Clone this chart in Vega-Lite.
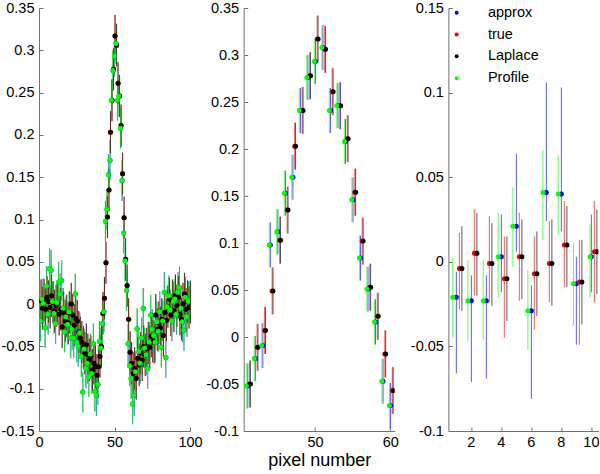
{
"$schema": "https://vega.github.io/schema/vega-lite/v6.json",
"autosize": {"type": "pad"},
"padding": {"left": 0, "top": 0, "right": 0, "bottom": 0},
"bounds": "flush",
"spacing": 53.7,
"config": {
  "view": {"stroke": null},
  "font": "Liberation Sans",
  "axis": {"grid": false, "domainColor": "#707070", "tickColor": "#707070", "tickSize": -4, "labelFontSize": 14.5, "labelColor": "#000000", "labelFlush": false, "labelOverlap": false, "titleFontSize": 18, "titleFontWeight": "normal", "titleColor": "#000000", "labelFont": "Liberation Sans", "titleFont": "Liberation Sans"},
  "axisY": {"labelPadding": 9},
  "axisX": {"labelPadding": 8, "titlePadding": 3}
},
"datasets": {
"px": [
{"x":1.05,"s":"approx","v":-0.020,"e":0.024},{"x":2.05,"s":"approx","v":0.006,"e":0.024},{"x":3.05,"s":"approx","v":0.001,"e":0.024},{"x":4.05,"s":"approx","v":-0.028,"e":0.024},{"x":5.05,"s":"approx","v":0.021,"e":0.024},{"x":6.05,"s":"approx","v":-0.012,"e":0.024},{"x":7.05,"s":"approx","v":0.042,"e":0.024},{"x":8.05,"s":"approx","v":0.040,"e":0.024},{"x":9.05,"s":"approx","v":0.003,"e":0.024},{"x":10.05,"s":"approx","v":-0.011,"e":0.024},
{"x":11.05,"s":"approx","v":-0.023,"e":0.024},{"x":12.05,"s":"approx","v":0.002,"e":0.024},{"x":13.05,"s":"approx","v":0.026,"e":0.024},{"x":14.05,"s":"approx","v":0.012,"e":0.024},{"x":15.05,"s":"approx","v":0.028,"e":0.024},{"x":16.05,"s":"approx","v":-0.005,"e":0.024},{"x":17.05,"s":"approx","v":-0.033,"e":0.024},{"x":18.05,"s":"approx","v":-0.015,"e":0.024},{"x":19.05,"s":"approx","v":-0.024,"e":0.024},{"x":20.05,"s":"approx","v":-0.009,"e":0.024},
{"x":21.05,"s":"approx","v":-0.040,"e":0.024},{"x":22.05,"s":"approx","v":-0.030,"e":0.024},{"x":23.05,"s":"approx","v":-0.040,"e":0.024},{"x":24.05,"s":"approx","v":0.012,"e":0.024},{"x":25.05,"s":"approx","v":-0.045,"e":0.024},{"x":26.05,"s":"approx","v":-0.050,"e":0.024},{"x":27.05,"s":"approx","v":-0.034,"e":0.024},{"x":28.05,"s":"approx","v":-0.062,"e":0.024},{"x":29.05,"s":"approx","v":-0.104,"e":0.024},{"x":30.05,"s":"approx","v":-0.053,"e":0.024},
{"x":31.05,"s":"approx","v":-0.076,"e":0.024},{"x":32.05,"s":"approx","v":-0.070,"e":0.024},{"x":33.05,"s":"approx","v":-0.086,"e":0.024},{"x":34.05,"s":"approx","v":-0.059,"e":0.024},{"x":35.05,"s":"approx","v":-0.082,"e":0.024},{"x":36.05,"s":"approx","v":-0.047,"e":0.024},{"x":37.05,"s":"approx","v":-0.103,"e":0.024},{"x":38.05,"s":"approx","v":-0.108,"e":0.024},{"x":39.05,"s":"approx","v":-0.095,"e":0.024},{"x":40.05,"s":"approx","v":-0.044,"e":0.024},
{"x":41.05,"s":"approx","v":-0.052,"e":0.024},{"x":42.05,"s":"approx","v":-0.023,"e":0.024},{"x":43.05,"s":"approx","v":-0.009,"e":0.024},{"x":44.05,"s":"approx","v":0.098,"e":0.024},{"x":45.05,"s":"approx","v":0.112,"e":0.024},{"x":46.05,"s":"approx","v":0.153,"e":0.024},{"x":47.05,"s":"approx","v":0.170,"e":0.024},{"x":48.05,"s":"approx","v":0.241,"e":0.024},{"x":49.05,"s":"approx","v":0.276,"e":0.024},{"x":50.05,"s":"approx","v":0.293,"e":0.024},
{"x":51.05,"s":"approx","v":0.308,"e":0.024},{"x":52.05,"s":"approx","v":0.241,"e":0.024},{"x":53.05,"s":"approx","v":0.246,"e":0.024},{"x":54.05,"s":"approx","v":0.208,"e":0.024},{"x":55.05,"s":"approx","v":0.146,"e":0.024},{"x":56.05,"s":"approx","v":0.084,"e":0.024},{"x":57.05,"s":"approx","v":0.051,"e":0.024},{"x":58.05,"s":"approx","v":0.016,"e":0.024},{"x":59.05,"s":"approx","v":-0.047,"e":0.024},{"x":60.05,"s":"approx","v":-0.073,"e":0.024},
{"x":61.05,"s":"approx","v":-0.088,"e":0.024},{"x":62.05,"s":"approx","v":-0.118,"e":0.024},{"x":63.05,"s":"approx","v":-0.108,"e":0.024},{"x":64.05,"s":"approx","v":-0.080,"e":0.024},{"x":65.05,"s":"approx","v":-0.029,"e":0.024},{"x":66.05,"s":"approx","v":-0.056,"e":0.024},{"x":67.05,"s":"approx","v":-0.070,"e":0.024},{"x":68.05,"s":"approx","v":-0.040,"e":0.024},{"x":69.05,"s":"approx","v":-0.005,"e":0.024},{"x":70.05,"s":"approx","v":-0.052,"e":0.024},
{"x":71.05,"s":"approx","v":-0.060,"e":0.024},{"x":72.05,"s":"approx","v":-0.076,"e":0.024},{"x":73.05,"s":"approx","v":-0.045,"e":0.024},{"x":74.05,"s":"approx","v":-0.013,"e":0.024},{"x":75.05,"s":"approx","v":-0.030,"e":0.024},{"x":76.05,"s":"approx","v":-0.037,"e":0.024},{"x":77.05,"s":"approx","v":-0.045,"e":0.024},{"x":78.05,"s":"approx","v":-0.021,"e":0.024},{"x":79.05,"s":"approx","v":-0.032,"e":0.024},{"x":80.05,"s":"approx","v":-0.009,"e":0.024},
{"x":81.05,"s":"approx","v":-0.051,"e":0.024},{"x":82.05,"s":"approx","v":-0.020,"e":0.024},{"x":83.05,"s":"approx","v":0.014,"e":0.024},{"x":84.05,"s":"approx","v":-0.063,"e":0.024},{"x":85.05,"s":"approx","v":-0.003,"e":0.024},{"x":86.05,"s":"approx","v":0.010,"e":0.024},{"x":87.05,"s":"approx","v":-0.007,"e":0.024},{"x":88.05,"s":"approx","v":-0.020,"e":0.024},{"x":89.05,"s":"approx","v":0.003,"e":0.024},{"x":90.05,"s":"approx","v":0.006,"e":0.024},
{"x":91.05,"s":"approx","v":-0.012,"e":0.024},{"x":92.05,"s":"approx","v":0.014,"e":0.024},{"x":93.05,"s":"approx","v":0.020,"e":0.024},{"x":94.05,"s":"approx","v":-0.005,"e":0.024},{"x":95.05,"s":"approx","v":-0.021,"e":0.024},{"x":96.05,"s":"approx","v":-0.031,"e":0.024},{"x":97.05,"s":"approx","v":0.008,"e":0.024},{"x":98.05,"s":"approx","v":-0.015,"e":0.024},{"x":99.05,"s":"approx","v":0.003,"e":0.024},{"x":100.05,"s":"approx","v":0.004,"e":0.024},

{"x":1.28,"s":"true","v":0.004,"e":0.025},{"x":2.28,"s":"true","v":-0.005,"e":0.025},{"x":3.28,"s":"true","v":0.005,"e":0.025},{"x":4.28,"s":"true","v":-0.006,"e":0.025},{"x":5.28,"s":"true","v":0.008,"e":0.025},{"x":6.28,"s":"true","v":0.003,"e":0.025},{"x":7.28,"s":"true","v":-0.004,"e":0.025},{"x":8.28,"s":"true","v":0.010,"e":0.025},{"x":9.28,"s":"true","v":0.002,"e":0.025},{"x":10.28,"s":"true","v":-0.008,"e":0.025},
{"x":11.28,"s":"true","v":-0.002,"e":0.025},{"x":12.28,"s":"true","v":0.001,"e":0.025},{"x":13.28,"s":"true","v":-0.012,"e":0.025},{"x":14.28,"s":"true","v":-0.006,"e":0.025},{"x":15.28,"s":"true","v":-0.027,"e":0.025},{"x":16.28,"s":"true","v":-0.010,"e":0.025},{"x":17.28,"s":"true","v":-0.020,"e":0.025},{"x":18.28,"s":"true","v":-0.014,"e":0.025},{"x":19.28,"s":"true","v":-0.022,"e":0.025},{"x":20.28,"s":"true","v":-0.010,"e":0.025},
{"x":21.28,"s":"true","v":0.000,"e":0.025},{"x":22.28,"s":"true","v":-0.013,"e":0.025},{"x":23.28,"s":"true","v":-0.025,"e":0.025},{"x":24.28,"s":"true","v":-0.017,"e":0.025},{"x":25.28,"s":"true","v":-0.020,"e":0.025},{"x":26.28,"s":"true","v":-0.033,"e":0.025},{"x":27.28,"s":"true","v":-0.040,"e":0.025},{"x":28.28,"s":"true","v":-0.045,"e":0.025},{"x":29.28,"s":"true","v":-0.051,"e":0.025},{"x":30.28,"s":"true","v":-0.058,"e":0.025},
{"x":31.28,"s":"true","v":-0.048,"e":0.025},{"x":32.28,"s":"true","v":-0.060,"e":0.025},{"x":33.28,"s":"true","v":-0.066,"e":0.025},{"x":34.28,"s":"true","v":-0.062,"e":0.025},{"x":35.28,"s":"true","v":-0.078,"e":0.025},{"x":36.28,"s":"true","v":-0.070,"e":0.025},{"x":37.28,"s":"true","v":-0.074,"e":0.025},{"x":38.28,"s":"true","v":-0.084,"e":0.025},{"x":39.28,"s":"true","v":-0.074,"e":0.025},{"x":40.28,"s":"true","v":-0.062,"e":0.025},
{"x":41.28,"s":"true","v":-0.050,"e":0.025},{"x":42.28,"s":"true","v":-0.011,"e":0.025},{"x":43.28,"s":"true","v":0.007,"e":0.025},{"x":44.28,"s":"true","v":0.049,"e":0.025},{"x":45.28,"s":"true","v":0.103,"e":0.025},{"x":46.28,"s":"true","v":0.135,"e":0.025},{"x":47.28,"s":"true","v":0.203,"e":0.025},{"x":48.28,"s":"true","v":0.241,"e":0.025},{"x":49.28,"s":"true","v":0.278,"e":0.025},{"x":50.28,"s":"true","v":0.317,"e":0.025},
{"x":51.28,"s":"true","v":0.306,"e":0.025},{"x":52.28,"s":"true","v":0.261,"e":0.025},{"x":53.28,"s":"true","v":0.246,"e":0.025},{"x":54.28,"s":"true","v":0.211,"e":0.025},{"x":55.28,"s":"true","v":0.154,"e":0.025},{"x":56.28,"s":"true","v":0.102,"e":0.025},{"x":57.28,"s":"true","v":0.053,"e":0.025},{"x":58.28,"s":"true","v":0.022,"e":0.025},{"x":59.28,"s":"true","v":-0.018,"e":0.025},{"x":60.28,"s":"true","v":-0.057,"e":0.025},
{"x":61.28,"s":"true","v":-0.070,"e":0.025},{"x":62.28,"s":"true","v":-0.082,"e":0.025},{"x":63.28,"s":"true","v":-0.076,"e":0.025},{"x":64.28,"s":"true","v":-0.088,"e":0.025},{"x":65.28,"s":"true","v":-0.064,"e":0.025},{"x":66.28,"s":"true","v":-0.072,"e":0.025},{"x":67.28,"s":"true","v":-0.058,"e":0.025},{"x":68.28,"s":"true","v":-0.066,"e":0.025},{"x":69.28,"s":"true","v":-0.050,"e":0.025},{"x":70.28,"s":"true","v":-0.060,"e":0.025},
{"x":71.28,"s":"true","v":-0.053,"e":0.025},{"x":72.28,"s":"true","v":-0.046,"e":0.025},{"x":73.28,"s":"true","v":-0.051,"e":0.025},{"x":74.28,"s":"true","v":-0.038,"e":0.025},{"x":75.28,"s":"true","v":-0.044,"e":0.025},{"x":76.28,"s":"true","v":-0.045,"e":0.025},{"x":77.28,"s":"true","v":-0.013,"e":0.025},{"x":78.28,"s":"true","v":-0.030,"e":0.025},{"x":79.28,"s":"true","v":-0.022,"e":0.025},{"x":80.28,"s":"true","v":-0.028,"e":0.025},
{"x":81.28,"s":"true","v":-0.018,"e":0.025},{"x":82.28,"s":"true","v":-0.037,"e":0.025},{"x":83.28,"s":"true","v":-0.010,"e":0.025},{"x":84.28,"s":"true","v":-0.019,"e":0.025},{"x":85.28,"s":"true","v":-0.003,"e":0.025},{"x":86.28,"s":"true","v":0.006,"e":0.025},{"x":87.28,"s":"true","v":-0.013,"e":0.025},{"x":88.28,"s":"true","v":0.004,"e":0.025},{"x":89.28,"s":"true","v":-0.008,"e":0.025},{"x":90.28,"s":"true","v":0.010,"e":0.025},
{"x":91.28,"s":"true","v":-0.002,"e":0.025},{"x":92.28,"s":"true","v":0.008,"e":0.025},{"x":93.28,"s":"true","v":-0.012,"e":0.025},{"x":94.28,"s":"true","v":-0.018,"e":0.025},{"x":95.28,"s":"true","v":0.000,"e":0.025},{"x":96.28,"s":"true","v":0.012,"e":0.025},{"x":97.28,"s":"true","v":-0.006,"e":0.025},{"x":98.28,"s":"true","v":0.003,"e":0.025},{"x":99.28,"s":"true","v":-0.004,"e":0.025},{"x":100.28,"s":"true","v":0.002,"e":0.025},

{"x":1.4,"s":"Laplace","v":0.004,"e":0.025},{"x":2.4,"s":"Laplace","v":-0.005,"e":0.025},{"x":3.4,"s":"Laplace","v":0.005,"e":0.025},{"x":4.4,"s":"Laplace","v":-0.006,"e":0.025},{"x":5.4,"s":"Laplace","v":0.008,"e":0.025},{"x":6.4,"s":"Laplace","v":0.003,"e":0.025},{"x":7.4,"s":"Laplace","v":-0.004,"e":0.025},{"x":8.4,"s":"Laplace","v":0.010,"e":0.025},{"x":9.4,"s":"Laplace","v":0.002,"e":0.025},{"x":10.4,"s":"Laplace","v":-0.008,"e":0.025},
{"x":11.4,"s":"Laplace","v":-0.002,"e":0.025},{"x":12.4,"s":"Laplace","v":0.001,"e":0.025},{"x":13.4,"s":"Laplace","v":-0.012,"e":0.025},{"x":14.4,"s":"Laplace","v":-0.006,"e":0.025},{"x":15.4,"s":"Laplace","v":-0.027,"e":0.025},{"x":16.4,"s":"Laplace","v":-0.010,"e":0.025},{"x":17.4,"s":"Laplace","v":-0.020,"e":0.025},{"x":18.4,"s":"Laplace","v":-0.014,"e":0.025},{"x":19.4,"s":"Laplace","v":-0.022,"e":0.025},{"x":20.4,"s":"Laplace","v":-0.010,"e":0.025},
{"x":21.4,"s":"Laplace","v":0.000,"e":0.025},{"x":22.4,"s":"Laplace","v":-0.013,"e":0.025},{"x":23.4,"s":"Laplace","v":-0.025,"e":0.025},{"x":24.4,"s":"Laplace","v":-0.017,"e":0.025},{"x":25.4,"s":"Laplace","v":-0.020,"e":0.025},{"x":26.4,"s":"Laplace","v":-0.033,"e":0.025},{"x":27.4,"s":"Laplace","v":-0.040,"e":0.025},{"x":28.4,"s":"Laplace","v":-0.045,"e":0.025},{"x":29.4,"s":"Laplace","v":-0.051,"e":0.025},{"x":30.4,"s":"Laplace","v":-0.058,"e":0.025},
{"x":31.4,"s":"Laplace","v":-0.048,"e":0.025},{"x":32.4,"s":"Laplace","v":-0.060,"e":0.025},{"x":33.4,"s":"Laplace","v":-0.066,"e":0.025},{"x":34.4,"s":"Laplace","v":-0.062,"e":0.025},{"x":35.4,"s":"Laplace","v":-0.078,"e":0.025},{"x":36.4,"s":"Laplace","v":-0.070,"e":0.025},{"x":37.4,"s":"Laplace","v":-0.074,"e":0.025},{"x":38.4,"s":"Laplace","v":-0.084,"e":0.025},{"x":39.4,"s":"Laplace","v":-0.074,"e":0.025},{"x":40.4,"s":"Laplace","v":-0.062,"e":0.025},
{"x":41.4,"s":"Laplace","v":-0.050,"e":0.025},{"x":42.4,"s":"Laplace","v":-0.011,"e":0.025},{"x":43.4,"s":"Laplace","v":0.007,"e":0.025},{"x":44.4,"s":"Laplace","v":0.049,"e":0.025},{"x":45.4,"s":"Laplace","v":0.103,"e":0.025},{"x":46.4,"s":"Laplace","v":0.135,"e":0.025},{"x":47.4,"s":"Laplace","v":0.203,"e":0.025},{"x":48.4,"s":"Laplace","v":0.241,"e":0.025},{"x":49.4,"s":"Laplace","v":0.278,"e":0.025},{"x":50.4,"s":"Laplace","v":0.317,"e":0.025},
{"x":51.4,"s":"Laplace","v":0.306,"e":0.025},{"x":52.4,"s":"Laplace","v":0.261,"e":0.025},{"x":53.4,"s":"Laplace","v":0.246,"e":0.025},{"x":54.4,"s":"Laplace","v":0.211,"e":0.025},{"x":55.4,"s":"Laplace","v":0.154,"e":0.025},{"x":56.4,"s":"Laplace","v":0.102,"e":0.025},{"x":57.4,"s":"Laplace","v":0.053,"e":0.025},{"x":58.4,"s":"Laplace","v":0.022,"e":0.025},{"x":59.4,"s":"Laplace","v":-0.018,"e":0.025},{"x":60.4,"s":"Laplace","v":-0.057,"e":0.025},
{"x":61.4,"s":"Laplace","v":-0.070,"e":0.025},{"x":62.4,"s":"Laplace","v":-0.082,"e":0.025},{"x":63.4,"s":"Laplace","v":-0.076,"e":0.025},{"x":64.4,"s":"Laplace","v":-0.088,"e":0.025},{"x":65.4,"s":"Laplace","v":-0.064,"e":0.025},{"x":66.4,"s":"Laplace","v":-0.072,"e":0.025},{"x":67.4,"s":"Laplace","v":-0.058,"e":0.025},{"x":68.4,"s":"Laplace","v":-0.066,"e":0.025},{"x":69.4,"s":"Laplace","v":-0.050,"e":0.025},{"x":70.4,"s":"Laplace","v":-0.060,"e":0.025},
{"x":71.4,"s":"Laplace","v":-0.053,"e":0.025},{"x":72.4,"s":"Laplace","v":-0.046,"e":0.025},{"x":73.4,"s":"Laplace","v":-0.051,"e":0.025},{"x":74.4,"s":"Laplace","v":-0.038,"e":0.025},{"x":75.4,"s":"Laplace","v":-0.044,"e":0.025},{"x":76.4,"s":"Laplace","v":-0.045,"e":0.025},{"x":77.4,"s":"Laplace","v":-0.013,"e":0.025},{"x":78.4,"s":"Laplace","v":-0.030,"e":0.025},{"x":79.4,"s":"Laplace","v":-0.022,"e":0.025},{"x":80.4,"s":"Laplace","v":-0.028,"e":0.025},
{"x":81.4,"s":"Laplace","v":-0.018,"e":0.025},{"x":82.4,"s":"Laplace","v":-0.037,"e":0.025},{"x":83.4,"s":"Laplace","v":-0.010,"e":0.025},{"x":84.4,"s":"Laplace","v":-0.019,"e":0.025},{"x":85.4,"s":"Laplace","v":-0.003,"e":0.025},{"x":86.4,"s":"Laplace","v":0.006,"e":0.025},{"x":87.4,"s":"Laplace","v":-0.013,"e":0.025},{"x":88.4,"s":"Laplace","v":0.004,"e":0.025},{"x":89.4,"s":"Laplace","v":-0.008,"e":0.025},{"x":90.4,"s":"Laplace","v":0.010,"e":0.025},
{"x":91.4,"s":"Laplace","v":-0.002,"e":0.025},{"x":92.4,"s":"Laplace","v":0.008,"e":0.025},{"x":93.4,"s":"Laplace","v":-0.012,"e":0.025},{"x":94.4,"s":"Laplace","v":-0.018,"e":0.025},{"x":95.4,"s":"Laplace","v":0.000,"e":0.025},{"x":96.4,"s":"Laplace","v":0.012,"e":0.025},{"x":97.4,"s":"Laplace","v":-0.006,"e":0.025},{"x":98.4,"s":"Laplace","v":0.003,"e":0.025},{"x":99.4,"s":"Laplace","v":-0.004,"e":0.025},{"x":100.4,"s":"Laplace","v":0.002,"e":0.025},

{"x":0.9,"s":"Profile","v":-0.020,"e":0.024},{"x":1.9,"s":"Profile","v":0.006,"e":0.024},{"x":2.9,"s":"Profile","v":0.001,"e":0.024},{"x":3.9,"s":"Profile","v":-0.028,"e":0.024},{"x":4.9,"s":"Profile","v":0.021,"e":0.024},{"x":5.9,"s":"Profile","v":-0.012,"e":0.024},{"x":6.9,"s":"Profile","v":0.042,"e":0.024},{"x":7.9,"s":"Profile","v":0.040,"e":0.024},{"x":8.9,"s":"Profile","v":0.003,"e":0.024},{"x":9.9,"s":"Profile","v":-0.011,"e":0.024},
{"x":10.9,"s":"Profile","v":-0.023,"e":0.024},{"x":11.9,"s":"Profile","v":0.002,"e":0.024},{"x":12.9,"s":"Profile","v":0.026,"e":0.024},{"x":13.9,"s":"Profile","v":0.012,"e":0.024},{"x":14.9,"s":"Profile","v":0.028,"e":0.024},{"x":15.9,"s":"Profile","v":-0.005,"e":0.024},{"x":16.9,"s":"Profile","v":-0.033,"e":0.024},{"x":17.9,"s":"Profile","v":-0.015,"e":0.024},{"x":18.9,"s":"Profile","v":-0.024,"e":0.024},{"x":19.9,"s":"Profile","v":-0.009,"e":0.024},
{"x":20.9,"s":"Profile","v":-0.040,"e":0.024},{"x":21.9,"s":"Profile","v":-0.030,"e":0.024},{"x":22.9,"s":"Profile","v":-0.040,"e":0.024},{"x":23.9,"s":"Profile","v":0.012,"e":0.024},{"x":24.9,"s":"Profile","v":-0.045,"e":0.024},{"x":25.9,"s":"Profile","v":-0.050,"e":0.024},{"x":26.9,"s":"Profile","v":-0.034,"e":0.024},{"x":27.9,"s":"Profile","v":-0.062,"e":0.024},{"x":28.9,"s":"Profile","v":-0.104,"e":0.024},{"x":29.9,"s":"Profile","v":-0.053,"e":0.024},
{"x":30.9,"s":"Profile","v":-0.076,"e":0.024},{"x":31.9,"s":"Profile","v":-0.070,"e":0.024},{"x":32.9,"s":"Profile","v":-0.086,"e":0.024},{"x":33.9,"s":"Profile","v":-0.059,"e":0.024},{"x":34.9,"s":"Profile","v":-0.082,"e":0.024},{"x":35.9,"s":"Profile","v":-0.047,"e":0.024},{"x":36.9,"s":"Profile","v":-0.103,"e":0.024},{"x":37.9,"s":"Profile","v":-0.108,"e":0.024},{"x":38.9,"s":"Profile","v":-0.095,"e":0.024},{"x":39.9,"s":"Profile","v":-0.044,"e":0.024},
{"x":40.85,"s":"Profile","v":-0.052,"e":0.024},{"x":41.9,"s":"Profile","v":-0.023,"e":0.024},{"x":42.9,"s":"Profile","v":-0.009,"e":0.024},{"x":43.9,"s":"Profile","v":0.098,"e":0.024},{"x":44.9,"s":"Profile","v":0.112,"e":0.024},{"x":45.9,"s":"Profile","v":0.153,"e":0.024},{"x":46.9,"s":"Profile","v":0.170,"e":0.024},{"x":47.9,"s":"Profile","v":0.241,"e":0.024},{"x":48.9,"s":"Profile","v":0.276,"e":0.024},{"x":49.9,"s":"Profile","v":0.293,"e":0.024},
{"x":50.9,"s":"Profile","v":0.308,"e":0.024},{"x":51.9,"s":"Profile","v":0.241,"e":0.024},{"x":52.9,"s":"Profile","v":0.246,"e":0.024},{"x":53.9,"s":"Profile","v":0.208,"e":0.024},{"x":54.9,"s":"Profile","v":0.146,"e":0.024},{"x":55.9,"s":"Profile","v":0.084,"e":0.024},{"x":56.9,"s":"Profile","v":0.051,"e":0.024},{"x":57.9,"s":"Profile","v":0.016,"e":0.024},{"x":58.9,"s":"Profile","v":-0.047,"e":0.024},{"x":59.9,"s":"Profile","v":-0.073,"e":0.024},
{"x":60.9,"s":"Profile","v":-0.088,"e":0.024},{"x":61.9,"s":"Profile","v":-0.118,"e":0.024},{"x":62.9,"s":"Profile","v":-0.108,"e":0.024},{"x":63.9,"s":"Profile","v":-0.080,"e":0.024},{"x":64.9,"s":"Profile","v":-0.029,"e":0.024},{"x":65.9,"s":"Profile","v":-0.056,"e":0.024},{"x":66.9,"s":"Profile","v":-0.070,"e":0.024},{"x":67.9,"s":"Profile","v":-0.040,"e":0.024},{"x":68.9,"s":"Profile","v":-0.005,"e":0.024},{"x":69.9,"s":"Profile","v":-0.052,"e":0.024},
{"x":70.9,"s":"Profile","v":-0.060,"e":0.024},{"x":71.9,"s":"Profile","v":-0.076,"e":0.024},{"x":72.9,"s":"Profile","v":-0.045,"e":0.024},{"x":73.9,"s":"Profile","v":-0.013,"e":0.024},{"x":74.9,"s":"Profile","v":-0.030,"e":0.024},{"x":75.9,"s":"Profile","v":-0.037,"e":0.024},{"x":76.9,"s":"Profile","v":-0.045,"e":0.024},{"x":77.9,"s":"Profile","v":-0.021,"e":0.024},{"x":78.9,"s":"Profile","v":-0.032,"e":0.024},{"x":79.9,"s":"Profile","v":-0.009,"e":0.024},
{"x":80.9,"s":"Profile","v":-0.051,"e":0.024},{"x":81.9,"s":"Profile","v":-0.020,"e":0.024},{"x":82.9,"s":"Profile","v":0.014,"e":0.024},{"x":83.9,"s":"Profile","v":-0.063,"e":0.024},{"x":84.9,"s":"Profile","v":-0.003,"e":0.024},{"x":85.9,"s":"Profile","v":0.010,"e":0.024},{"x":86.9,"s":"Profile","v":-0.007,"e":0.024},{"x":87.9,"s":"Profile","v":-0.020,"e":0.024},{"x":88.9,"s":"Profile","v":0.003,"e":0.024},{"x":89.9,"s":"Profile","v":0.006,"e":0.024},
{"x":90.9,"s":"Profile","v":-0.012,"e":0.024},{"x":91.9,"s":"Profile","v":0.014,"e":0.024},{"x":92.9,"s":"Profile","v":0.020,"e":0.024},{"x":93.9,"s":"Profile","v":-0.005,"e":0.024},{"x":94.9,"s":"Profile","v":-0.021,"e":0.024},{"x":95.9,"s":"Profile","v":-0.031,"e":0.024},{"x":96.9,"s":"Profile","v":0.008,"e":0.024},{"x":97.9,"s":"Profile","v":-0.015,"e":0.024},{"x":98.9,"s":"Profile","v":0.003,"e":0.024},{"x":99.9,"s":"Profile","v":0.004,"e":0.024}
],
"idx": [
{"x":1.03,"s":"approx","v":-0.021,"lo":-0.066,"hi":-0.006},{"x":2.03,"s":"approx","v":-0.023,"lo":-0.071,"hi":-0.008},{"x":3.03,"s":"approx","v":-0.023,"lo":-0.069,"hi":-0.008},{"x":4.03,"s":"approx","v":0.003,"lo":-0.018,"hi":0.028},{"x":5.03,"s":"approx","v":0.021,"lo":0.006,"hi":0.064},{"x":6.03,"s":"approx","v":-0.029,"lo":-0.081,"hi":-0.014},{"x":7.03,"s":"approx","v":0.041,"lo":0.024,"hi":0.106},{"x":8.03,"s":"approx","v":0.040,"lo":0.018,"hi":0.103},{"x":9.03,"s":"approx","v":-0.013,"lo":-0.049,"hi":0.003},{"x":10.03,"s":"approx","v":0.003,"lo":-0.018,"hi":0.028},
{"x":1.23,"s":"true","v":-0.004,"lo":-0.028,"hi":0.017},{"x":2.23,"s":"true","v":0.005,"lo":-0.020,"hi":0.031},{"x":3.23,"s":"true","v":-0.001,"lo":-0.024,"hi":0.027},{"x":4.23,"s":"true","v":-0.010,"lo":-0.045,"hi":0.015},{"x":5.23,"s":"true","v":0.003,"lo":-0.023,"hi":0.029},{"x":6.23,"s":"true","v":-0.007,"lo":-0.040,"hi":0.015},{"x":7.23,"s":"true","v":-0.001,"lo":-0.024,"hi":0.024},{"x":8.23,"s":"true","v":0.010,"lo":-0.015,"hi":0.036},{"x":9.23,"s":"true","v":-0.012,"lo":-0.049,"hi":0.013},{"x":10.23,"s":"true","v":0.006,"lo":-0.024,"hi":0.036},
{"x":1.4,"s":"Laplace","v":-0.004,"lo":-0.029,"hi":0.021},{"x":2.4,"s":"Laplace","v":0.005,"lo":-0.020,"hi":0.029},{"x":3.4,"s":"Laplace","v":-0.001,"lo":-0.026,"hi":0.023},{"x":4.4,"s":"Laplace","v":-0.010,"lo":-0.035,"hi":0.015},{"x":5.4,"s":"Laplace","v":0.003,"lo":-0.022,"hi":0.025},{"x":6.4,"s":"Laplace","v":-0.007,"lo":-0.032,"hi":0.018},{"x":7.4,"s":"Laplace","v":-0.001,"lo":-0.026,"hi":0.025},{"x":8.4,"s":"Laplace","v":0.010,"lo":-0.015,"hi":0.033},{"x":9.4,"s":"Laplace","v":-0.012,"lo":-0.037,"hi":0.013},{"x":10.4,"s":"Laplace","v":0.006,"lo":-0.019,"hi":0.031},
{"x":0.79,"s":"Profile","v":-0.021,"lo":-0.045,"hi":0.002},{"x":1.8,"s":"Profile","v":-0.023,"lo":-0.047,"hi":0.001},{"x":2.82,"s":"Profile","v":-0.023,"lo":-0.046,"hi":0.001},{"x":3.82,"s":"Profile","v":0.003,"lo":-0.021,"hi":0.029},{"x":4.8,"s":"Profile","v":0.021,"lo":-0.003,"hi":0.044},{"x":5.8,"s":"Profile","v":-0.029,"lo":-0.052,"hi":-0.005},{"x":6.8,"s":"Profile","v":0.041,"lo":0.013,"hi":0.066},{"x":7.82,"s":"Profile","v":0.040,"lo":0.016,"hi":0.063},{"x":8.84,"s":"Profile","v":-0.013,"lo":-0.038,"hi":0.011},{"x":9.94,"s":"Profile","v":0.003,"lo":-0.021,"hi":0.022}
]
},
"hconcat": [
{
  "width": 151, "height": 423,
  "data": {"name": "px"},
  "layer": [
    {"mark": {"type": "errorbar", "ticks": false, "rule": {"strokeWidth": 1, "opacity": 0.65}},
     "encoding": {
       "x": {"field": "x", "type": "quantitative", "scale": {"domain": [0, 100], "nice": false, "zero": false}, "axis": {"title": null, "values": [0, 50, 100], "labelOverlap": false}},
       "y": {"field": "v", "type": "quantitative", "scale": {"domain": [-0.15, 0.35], "nice": false, "zero": false}, "axis": {"title": null, "labelOverlap": false, "values": [-0.15, -0.1, -0.05, 0, 0.05, 0.1, 0.15, 0.2, 0.25, 0.3, 0.35], "labelExpr": "replace(format(datum.value, '~g'), '\u2212', '-')"}},
       "yError": {"field": "e"},
       "stroke": {"field": "s", "type": "nominal", "scale": {"domain": ["Profile", "Laplace", "true", "approx"], "range": ["#00ff00", "#000000", "#ff0000", "#0000ff"]}, "legend": null}
     }},
    {"mark": {"type": "point", "filled": true, "size": 25, "opacity": 1, "clip": true},
     "encoding": {
       "x": {"field": "x", "type": "quantitative"},
       "y": {"field": "v", "type": "quantitative"},
       "color": {"field": "s", "type": "nominal", "scale": {"domain": ["approx", "true", "Laplace", "Profile"], "range": ["#0000ff", "#ff0000", "#000000", "#00ff00"]},
         "legend": {"orient": "none", "legendX": 410.4, "legendY": -2.5, "title": null, "symbolType": "circle", "symbolSize": 16, "symbolStrokeWidth": 0, "labelFontSize": 14.5, "labelFont": "Liberation Sans", "labelColor": "#000000", "labelOffset": 24, "rowPadding": 6.8, "padding": 0}}
     }}
  ]
},
{
  "width": 151, "height": 423,
  "data": {"name": "px"},
  "transform": [{"filter": {"field": "x", "range": [40.6, 60.6]}}],
  "layer": [
    {"mark": {"type": "errorbar", "ticks": false, "rule": {"strokeWidth": 1, "opacity": 0.65}},
     "encoding": {
       "x": {"field": "x", "type": "quantitative", "scale": {"domain": [40.5, 60.6], "nice": false, "zero": false}, "axis": {"title": "pixel number", "values": [50, 60], "labelOverlap": false}},
       "y": {"field": "v", "type": "quantitative", "scale": {"domain": [-0.1, 0.35], "nice": false, "zero": false}, "axis": {"title": null, "labelOverlap": false, "values": [-0.1, -0.05, 0, 0.05, 0.1, 0.15, 0.2, 0.25, 0.3, 0.35], "labelExpr": "replace(format(datum.value, '~g'), '\u2212', '-')"}},
       "yError": {"field": "e"},
       "stroke": {"field": "s", "type": "nominal", "scale": {"domain": ["Profile", "Laplace", "true", "approx"], "range": ["#00ff00", "#000000", "#ff0000", "#0000ff"]}, "legend": null}
     }},
    {"mark": {"type": "point", "filled": true, "size": 25, "opacity": 1, "clip": true},
     "encoding": {
       "x": {"field": "x", "type": "quantitative"},
       "y": {"field": "v", "type": "quantitative"},
       "color": {"field": "s", "type": "nominal", "scale": {"domain": ["approx", "true", "Laplace", "Profile"], "range": ["#0000ff", "#ff0000", "#000000", "#00ff00"]},
         "legend": {"orient": "none", "legendX": 410.4, "legendY": -2.5, "title": null, "symbolType": "circle", "symbolSize": 16, "symbolStrokeWidth": 0, "labelFontSize": 14.5, "labelFont": "Liberation Sans", "labelColor": "#000000", "labelOffset": 24, "rowPadding": 6.8, "padding": 0}}
     }}
  ]
},
{
  "width": 150, "height": 423,
  "data": {"name": "idx"},
  "layer": [
    {"mark": {"type": "rule", "strokeWidth": 1, "opacity": 0.65, "clip": true},
     "encoding": {
       "x": {"field": "x", "type": "quantitative", "scale": {"domain": [0.5, 10.5], "nice": false, "zero": false}, "axis": {"title": null, "values": [2, 4, 6, 8, 10], "labelOverlap": false, "labelSeparation": 0}},
       "y": {"field": "lo", "type": "quantitative", "scale": {"domain": [-0.1, 0.15], "nice": false, "zero": false}, "axis": {"title": null, "labelOverlap": false, "values": [-0.1, -0.05, 0, 0.05, 0.1, 0.15], "labelExpr": "replace(format(datum.value, '~g'), '\u2212', '-')"}},
       "y2": {"field": "hi"},
       "stroke": {"field": "s", "type": "nominal", "scale": {"domain": ["Profile", "Laplace", "true", "approx"], "range": ["#00ff00", "#000000", "#ff0000", "#0000ff"]}, "legend": null}
     }},
    {"mark": {"type": "point", "filled": true, "size": 25, "opacity": 1, "clip": true},
     "encoding": {
       "x": {"field": "x", "type": "quantitative", "axis": {"title": null, "values": [2, 4, 6, 8, 10], "labelOverlap": false, "labelSeparation": 0}},
       "y": {"field": "v", "type": "quantitative"},
       "color": {"field": "s", "type": "nominal", "scale": {"domain": ["approx", "true", "Laplace", "Profile"], "range": ["#0000ff", "#ff0000", "#000000", "#00ff00"]},
         "legend": {"orient": "none", "legendX": 410.4, "legendY": -2.5, "title": null, "symbolType": "circle", "symbolSize": 16, "symbolStrokeWidth": 0, "labelFontSize": 14.5, "labelFont": "Liberation Sans", "labelColor": "#000000", "labelOffset": 24, "rowPadding": 6.8, "padding": 0}}
     }}
  ]
}
],
"resolve": {"scale": {"x": "independent", "y": "independent"}}
}
